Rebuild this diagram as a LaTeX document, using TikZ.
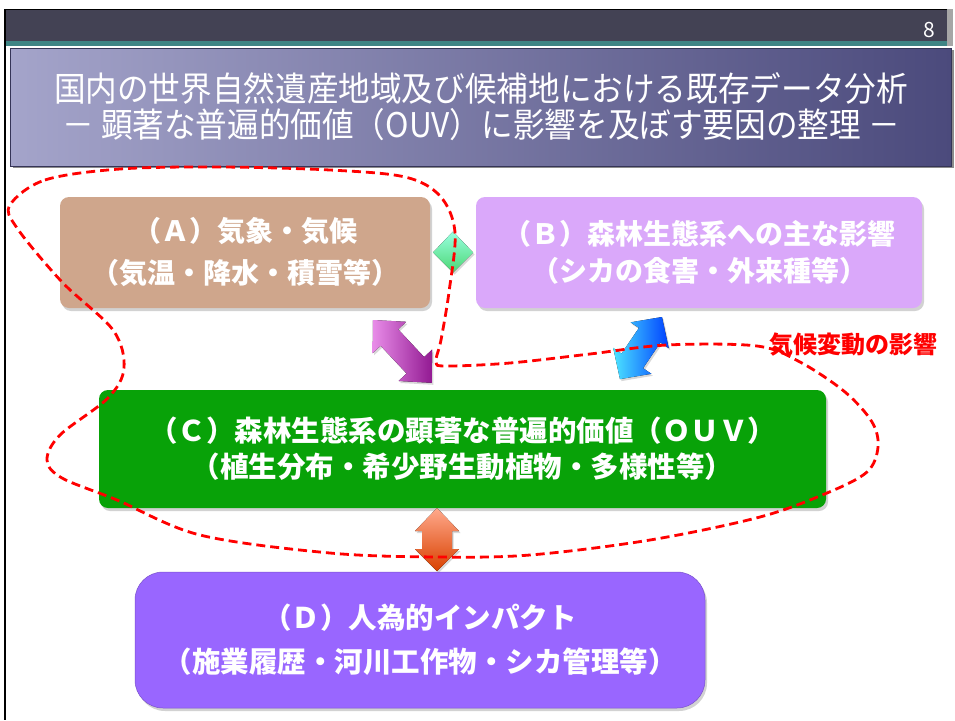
\documentclass[tikz,border=0pt]{standalone}
\usepackage{fontspec}
\setmainfont{Noto Sans CJK JP}
\newfontfamily\titlefont[FakeStretch=0.93]{Noto Sans CJK JP}
\usetikzlibrary{shadows,calc}
\definecolor{barcol}{HTML}{434254}
\definecolor{tealcol}{HTML}{3F8585}
\definecolor{titleL}{HTML}{A4A4CA}
\definecolor{titleR}{HTML}{4B4A7C}
\definecolor{acol}{HTML}{CFA68C}
\definecolor{bcol}{HTML}{DAA8FA}
\definecolor{ccol}{HTML}{08A208}
\definecolor{dcol}{HTML}{9966FF}
\definecolor{dashred}{HTML}{FF0000}
\tikzset{
  boxnode/.style={rounded corners=9pt, text=white, align=center, inner sep=0pt,
    font=\bfseries\fontsize{28}{40}\selectfont,
    drop shadow={opacity=0.35, shadow xshift=2pt, shadow yshift=-3pt}},
}
\begin{document}
\begin{tikzpicture}[x=1pt,y=-1pt]
\useasboundingbox (0,0) rectangle (955,720);
\fill[white] (0,0) rectangle (955,720);
% top bar
\fill[barcol] (5,9) rectangle (948,41);
\draw[black,line width=1.5pt] (5,9.5) -- (948,9.5);
\fill[tealcol] (5,41) rectangle (952,46);
\fill[black!35] (947,9) rectangle (953,46);
\draw[black,line width=1.5pt] (5,9) -- (5,720);
\node[text=white, font=\fontsize{21}{21}\selectfont] (pg) at (929,30) {8};
% title
\fill[black!45] (13,50) rectangle (954,168);
\node[left color=titleL, right color=titleR, draw=titleR!70!black, line width=0.6pt,
      minimum width=941pt, minimum height=118pt, inner sep=0pt,
      text=white, align=center, font=\titlefont\fontsize{34}{37}\selectfont] (title) at (481,107)
  {国内の世界自然遺産地域及び候補地における既存データ分析\\[-1pt]
   － 顕著な普遍的価値（OUV）に影響を及ぼす要因の整理 －};
% boxes
\node[boxnode, fill=acol, minimum width=370pt, minimum height=111pt] (A) at (245,252.5)
  {（Ａ）気象・気候\\[2pt]（気温・降水・積雪等）};
\node[boxnode, fill=bcol, minimum width=446pt, minimum height=111pt,
      font=\bfseries\fontsize{28}{37}\selectfont] (B) at (699,252.5)
  {（Ｂ）森林生態系への主な影響\\（シカの食害・外来種等）};
\node[boxnode, fill=ccol, minimum width=727pt, minimum height=118pt,
      font=\bfseries\fontsize{28.5}{36}\selectfont] (C) at (462.5,449)
  {（Ｃ）森林生態系の顕著な普遍的価値（ＯＵＶ）\\（植生分布・希少野生動植物・多様性等）};
\node[boxnode, fill=dcol, rounded corners=28pt, draw=dcol!80!black, line width=0.5pt,
      minimum width=570pt, minimum height=136pt,
      font=\bfseries\fontsize{28.5}{44}\selectfont] (D) at (420,640)
  {（Ｄ）人為的インパクト\\（施業履歴・河川工作物・シカ管理等）};
% diamond between A and B
\coordinate (ab) at ($(A.east)!0.5!(B.west)$);
\fill[top color=green!30!cyan!40, bottom color=green!55!teal!70, drop shadow={opacity=0.3,shadow xshift=1.5pt,shadow yshift=-2pt}]
  ($(ab)+(-20,0)$) -- ($(ab)+(0,-21)$) -- ($(ab)+(20,0)$) -- ($(ab)+(0,20)$) -- cycle;
% purple arrow A-C
\begin{scope}[shift={(373,320)}, rotate=-46.9]
\fill[left color=violet!40!magenta!45, right color=violet!60!magenta!75!black!90, drop shadow={opacity=0.3,shadow xshift=1.5pt,shadow yshift=-2pt}]
  (0,0) -- (24,-23) -- (24,-12) -- (62,-12) -- (62,-23) -- (86,0) -- (62,23) -- (62,12) -- (24,12) -- (24,23) -- cycle;
\end{scope}
% blue arrow B-C
\begin{scope}[shift={(662,317)}, rotate=-124.1]
\fill[left color=cyan!85!blue!70, right color=blue!75!cyan, drop shadow={opacity=0.3,shadow xshift=1.5pt,shadow yshift=-2pt}]
  (0,0) -- (22,-23) -- (22,-13) -- (53,-13) -- (53,-23) -- (75,0) -- (53,23) -- (53,13) -- (22,13) -- (22,23) -- cycle;
\end{scope}
% orange arrow C-D
\fill[top color=orange!50!red!45, bottom color=orange!60!red!85!black, drop shadow={opacity=0.3,shadow xshift=1.5pt,shadow yshift=-2pt}]
  (437,508) -- (459,531) -- (452,531) -- (452,549) -- (459,549) -- (437,571)
  -- (415,549) -- (422,549) -- (422,531) -- (415,531) -- cycle;
% dashed closed curve
\draw[dashred, line width=2.8pt, dash pattern=on 9pt off 5pt]
  plot[smooth cycle, tension=0.55] coordinates {
  (10,205) (45,180) (120,169) (220,167) (330,170) (405,177) (440,196) (455,232)
  (449,292) (441,340) (436,362) (447,366) (510,363) (590,354) (667,345) (757,346)
  (800,362) (845,392) (872,422) (878,447) (867,472) (827,493) (760,517) (650,540)
  (530,555) (437,557) (330,553) (200,535) (117,500) (62,478) (47,460) (60,435)
  (108,398) (124,368) (113,330) (62,282) (17,228)};
\node[text=red, font=\bfseries\fontsize{24}{24}\selectfont] (lbl) at (853,345) {気候変動の影響};
\end{tikzpicture}
\end{document}
